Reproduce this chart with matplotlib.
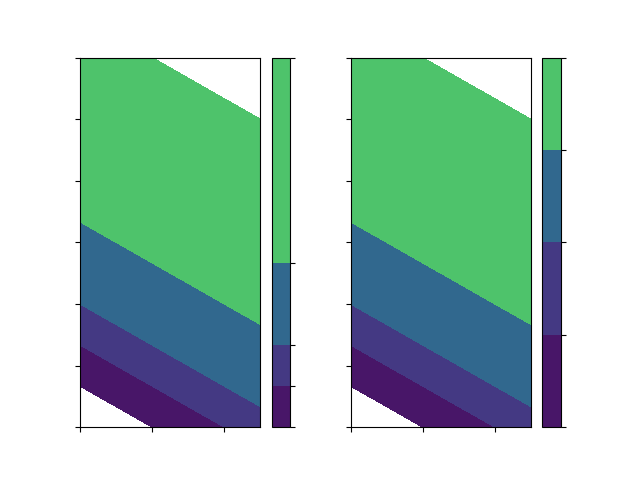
import numpy as np
import matplotlib
matplotlib.use("Agg")
import matplotlib.pyplot as plt

z = [[0, 1, 2, 3, 4, 5],
     [6, 7, 8, 9, 10, 11],
     [12, 13, 14, 15, 16, 17],
     [18, 19, 20, 21, 22, 23]]
levels = [2, 4, 6, 10, 20]
spacings = ['proportional', 'uniform']

z = np.array(z)
fig, axs = plt.subplots(1, 2, figsize=(6.4, 4.8), dpi=100)
for ax, sp in zip(axs, spacings):
    cs = ax.contourf(z, levels=levels)
    cb = fig.colorbar(cs, ax=ax, spacing=sp)
    ax.set_xticklabels([])
    ax.set_yticklabels([])
    cb.ax.set_yticklabels([])
fig.savefig("out.png", dpi=100)
